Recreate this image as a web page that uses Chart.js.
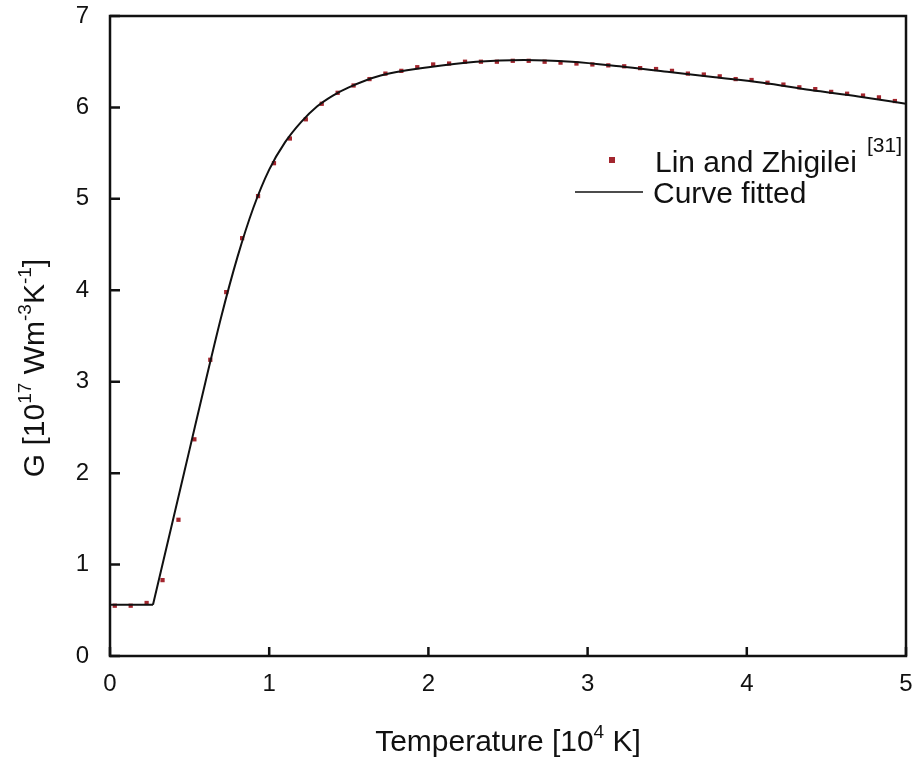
<!DOCTYPE html>
<html>
<head>
<meta charset="utf-8">
<script src="https://cdn.jsdelivr.net/npm/chart.js@4"></script>
<style>
  html, body { margin: 0; padding: 0; background: #fff; }
  #wrap { width: 917px; height: 763px; }
</style>
</head>
<body>
<div id="wrap"><canvas id="graficoG"></canvas></div>
<script>
// Lin and Zhigilei [31] data (T in 10^4 K, G in 10^17 W m^-3 K^-1)
const tempLin = [0.03, 0.13, 0.23, 0.33, 0.43, 0.53, 0.63, 0.73, 0.83, 0.93,
                 1.03, 1.13, 1.23, 1.33, 1.43, 1.53, 1.63, 1.73, 1.83, 1.93,
                 2.03, 2.13, 2.23, 2.33, 2.43, 2.53, 2.63, 2.73, 2.83, 2.93,
                 3.03, 3.13, 3.23, 3.33, 3.43, 3.53, 3.63, 3.73, 3.83, 3.93,
                 4.03, 4.13, 4.23, 4.33, 4.43, 4.53, 4.63, 4.73, 4.83, 4.93];
const gLin = [0.55, 0.55, 0.58, 0.83, 1.49, 2.37, 3.24, 3.98, 4.57, 5.03,
              5.39, 5.66, 5.87, 6.04, 6.16, 6.24, 6.31, 6.37, 6.40, 6.44,
              6.47, 6.48, 6.50, 6.50, 6.50, 6.51, 6.51, 6.50, 6.49, 6.48,
              6.47, 6.46, 6.45, 6.43, 6.42, 6.40, 6.37, 6.36, 6.34, 6.31,
              6.30, 6.27, 6.25, 6.22, 6.20, 6.17, 6.15, 6.13, 6.11, 6.07];

// curve fitted: flat part then smooth part
const tempFlat = [0, 0.27];
const gFlat = [0.56, 0.56];
const tempCurve = [0.27, 0.4, 0.5, 0.6, 0.7, 0.8, 0.9, 1.0, 1.1, 1.2, 1.3, 1.4, 1.5,
                   1.7, 2.0, 2.3, 2.6, 2.9, 3.2, 3.5, 3.8, 4.1, 4.4, 4.7, 5.0];
const gCurve = [0.56, 1.52, 2.26, 3.0, 3.72, 4.36, 4.90, 5.32, 5.62, 5.84, 6.01, 6.13, 6.22,
                6.35, 6.44, 6.50, 6.52, 6.50, 6.45, 6.39, 6.33, 6.27, 6.19, 6.12, 6.04];

const xTicks = [0, 1, 2, 3, 4, 5];
const yTicks = [0, 1, 2, 3, 4, 5, 6, 7];

const FONT = 'Liberation Sans, Arial, sans-serif';
const INK = '#111';
const RED = '#a3262e';

const toXY = (xs, ys) => xs.map((x, i) => ({x: x, y: ys[i]}));

// text with superscripts: parts = [[text, isSup], ...]
function drawParts(ctx, parts, x, y, size, align) {
    const supSize = Math.round(size * 0.62);
    let total = 0;
    parts.forEach(p => {
        ctx.font = (p[1] ? supSize : size) + 'px ' + FONT;
        total += ctx.measureText(p[0]).width;
    });
    let cx = align === 'center' ? x - total / 2 : x;
    ctx.textAlign = 'left';
    ctx.textBaseline = 'alphabetic';
    parts.forEach(p => {
        ctx.font = (p[1] ? supSize : size) + 'px ' + FONT;
        ctx.fillText(p[0], cx, p[1] ? y - size * 0.45 : y);
        cx += ctx.measureText(p[0]).width;
    });
}

const framePlugin = {
    id: 'frame',
    afterDraw(chart) {
        const ctx = chart.ctx;
        const a = chart.chartArea;
        const xs = chart.scales.x, ys = chart.scales.y;
        ctx.save();
        ctx.strokeStyle = INK;
        ctx.lineWidth = 2.5;
        ctx.strokeRect(a.left, a.top, a.right - a.left, a.bottom - a.top);
        // inward ticks
        ctx.beginPath();
        xTicks.forEach(v => {
            const px = xs.getPixelForValue(v);
            ctx.moveTo(px, a.bottom);
            ctx.lineTo(px, a.bottom - 9);
        });
        yTicks.forEach(v => {
            const py = ys.getPixelForValue(v);
            ctx.moveTo(a.left, py);
            ctx.lineTo(a.left + 10, py);
        });
        ctx.stroke();

        ctx.fillStyle = INK;
        // axis titles
        drawParts(ctx, [['Temperature [10', false], ['4', true], [' K]', false]],
                  (a.left + a.right) / 2, 751, 30, 'center');
        ctx.save();
        ctx.translate(44, 368);
        ctx.rotate(-Math.PI / 2);
        drawParts(ctx, [['G [10', false], ['17', true], [' Wm', false], ['-3', true],
                        ['K', false], ['-1', true], [']', false]], 0, 0, 30, 'center');
        ctx.restore();

        // legend
        ctx.fillStyle = RED;
        ctx.fillRect(609, 157, 6, 6);
        ctx.fillStyle = INK;
        drawParts(ctx, [['Lin and Zhigilei', false]], 655, 172, 30, 'left');
        ctx.font = '21px ' + FONT;
        ctx.fillText('[31]', 867, 152);
        ctx.beginPath();
        ctx.lineWidth = 1.5;
        ctx.moveTo(575, 192);
        ctx.lineTo(643, 192);
        ctx.stroke();
        drawParts(ctx, [['Curve fitted', false]], 653, 203, 30, 'left');
        ctx.restore();
    }
};

const ctx = document.getElementById('graficoG').getContext('2d');
new Chart(ctx, {
    type: 'scatter',
    data: {
        datasets: [
            {
                label: 'Curve fitted',
                type: 'line',
                data: toXY(tempCurve, gCurve),
                borderColor: INK,
                borderWidth: 2,
                pointRadius: 0,
                fill: false,
                cubicInterpolationMode: 'monotone'
            },
            {
                label: 'flat',
                type: 'line',
                data: toXY(tempFlat, gFlat),
                borderColor: INK,
                borderWidth: 2,
                pointRadius: 0,
                fill: false,
                tension: 0
            },
            {
                label: 'Lin and Zhigilei',
                data: toXY(tempLin, gLin),
                pointStyle: 'rect',
                pointRadius: 3,
                backgroundColor: RED,
                borderColor: RED,
                borderWidth: 0
            }
        ]
    },
    options: {
        responsive: true,
        maintainAspectRatio: false,
        animation: false,
        layout: { padding: { top: 16, right: 11, left: 0, bottom: 0 } },
        plugins: {
            legend: { display: false },
            tooltip: { enabled: false }
        },
        scales: {
            x: {
                type: 'linear',
                min: 0,
                max: 5,
                afterFit: s => { s.height = 107; s.paddingLeft = 0; s.paddingRight = 0; },
                afterBuildTicks: s => { s.ticks = xTicks.map(v => ({value: v})); },
                grid: { display: false, drawTicks: false },
                border: { display: false },
                ticks: {
                    padding: 14,
                    color: INK,
                    font: { family: FONT, size: 24 }
                }
            },
            y: {
                type: 'linear',
                min: 0,
                max: 7,
                afterFit: s => { s.width = 110; s.paddingTop = 0; s.paddingBottom = 0; },
                afterBuildTicks: s => { s.ticks = yTicks.map(v => ({value: v})); },
                grid: { display: false, drawTicks: false },
                border: { display: false },
                ticks: {
                    padding: 21,
                    color: INK,
                    font: { family: FONT, size: 24 }
                }
            }
        }
    },
    plugins: [framePlugin]
});
</script>
</body>
</html>
